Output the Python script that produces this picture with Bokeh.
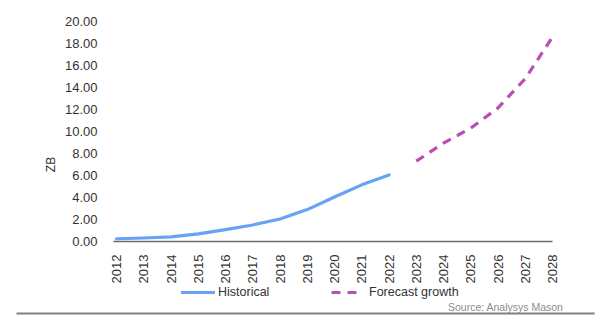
from bokeh.plotting import figure
from bokeh.models import (Range1d, FixedTicker, NumeralTickFormatter, Legend, LegendItem,
                          Label, LinearAxis, BoxAnnotation)
from bokeh.embed import file_html
from bokeh.resources import INLINE
import math

years_hist = [2012, 2013, 2014, 2015, 2016, 2017, 2018, 2019, 2020, 2021, 2022]
hist_values = [0.25, 0.32, 0.42, 0.70, 1.08, 1.50, 2.05, 2.90, 4.05, 5.15, 6.05]
years_fc = [2023, 2024, 2025, 2026, 2027, 2028]
fc_values = [7.30, 8.95, 10.30, 12.15, 14.80, 18.60]
y_ticks = [0, 2, 4, 6, 8, 10, 12, 14, 16, 18, 20]
x_ticks = list(range(2012, 2029))

FONT = "Liberation Sans"
BLUE = "#66A3F4"
PINK = "#B94FB4"

W, H = 600, 328
# layout: plot area spans pixels x 116..552 (2012..2028), y 241..21 (0..20)
px_per_year = (552 - 116) / 16.0
px_per_unit = (241 - 21) / 20.0
x_lo = 2012 - 116 / px_per_year
x_hi = 2028 + (W - 552) / px_per_year
y_lo = -(H - 241) / px_per_unit
y_hi = 20 + 21 / px_per_unit

p = figure(width=W, height=H, output_backend="svg", toolbar_location=None,
           x_range=Range1d(x_lo, x_hi), y_range=Range1d(y_lo, y_hi),
           x_axis_location=None, y_axis_location=None,
           min_border=0)
p.outline_line_color = None
p.xgrid.grid_line_color = None
p.ygrid.grid_line_color = None
p.background_fill_color = "white"
p.border_fill_color = "white"

# y axis fixed at 2012
yax = LinearAxis(fixed_location=2012, ticker=FixedTicker(ticks=y_ticks),
                 formatter=NumeralTickFormatter(format="0.00"))
yax.axis_line_color = None
yax.major_tick_line_color = None
yax.minor_tick_line_color = None
yax.major_label_standoff = 13
yax.major_label_text_font = FONT
yax.major_label_text_font_size = "13px"
yax.major_label_text_color = "#333333"
yax.axis_label = "ZB"
yax.axis_label_text_font = FONT
yax.axis_label_text_font_size = "12px"
yax.axis_label_text_font_style = "normal"
yax.axis_label_text_color = "#333333"
yax.axis_label_standoff = 4
p.add_layout(yax, "left")

# x axis fixed at value 0
xax = LinearAxis(fixed_location=0, ticker=FixedTicker(ticks=x_ticks),
                 bounds=(2012 - 3 / px_per_year, 2028))
xax.axis_line_color = "#6b6b6b"
xax.axis_line_width = 1.5
xax.major_tick_line_color = None
xax.minor_tick_line_color = None
xax.major_label_orientation = math.pi / 2
xax.major_label_standoff = 7
xax.major_label_text_font = FONT
xax.major_label_text_font_size = "13px"
xax.major_label_text_color = "#333333"
p.add_layout(xax, "below")

r_hist = p.line(years_hist, hist_values, line_color=BLUE, line_width=3.2, line_join="round", line_cap="round")
r_fc = p.line(years_fc, fc_values, line_color=PINK, line_width=3.2, line_dash="9 7", line_join="round")

leg1 = Legend(items=[LegendItem(label="Historical", renderers=[r_hist])],
              location=(181, 26), orientation="horizontal", padding=0, margin=0,
              border_line_color=None, background_fill_alpha=0,
              glyph_width=34, glyph_height=20, label_standoff=3,
              label_text_font=FONT, label_text_font_size="12.5px", label_text_color="#333333")
leg2 = Legend(items=[LegendItem(label="Forecast growth", renderers=[r_fc])],
              location=(331, 26), orientation="horizontal", padding=0, margin=0,
              border_line_color=None, background_fill_alpha=0,
              glyph_width=32, glyph_height=20, label_standoff=6,
              label_text_font=FONT, label_text_font_size="12.5px", label_text_color="#333333")
p.add_layout(leg1, "center")
p.add_layout(leg2, "center")

src = Label(x=563, y=H - 306, x_units="screen", y_units="screen", text="Source: Analysys Mason",
            text_align="right", text_baseline="alphabetic",
            text_font=FONT, text_font_size="10.5px", text_color="#8c8c8c")
p.add_layout(src)

rule = BoxAnnotation(left=16, right=594, top=H - 312, bottom=H - 314,
                     left_units="screen", right_units="screen", top_units="screen", bottom_units="screen",
                     fill_color="#808080", fill_alpha=1, line_color=None)
p.add_layout(rule)

open("out.html", "w").write(file_html(p, INLINE))
